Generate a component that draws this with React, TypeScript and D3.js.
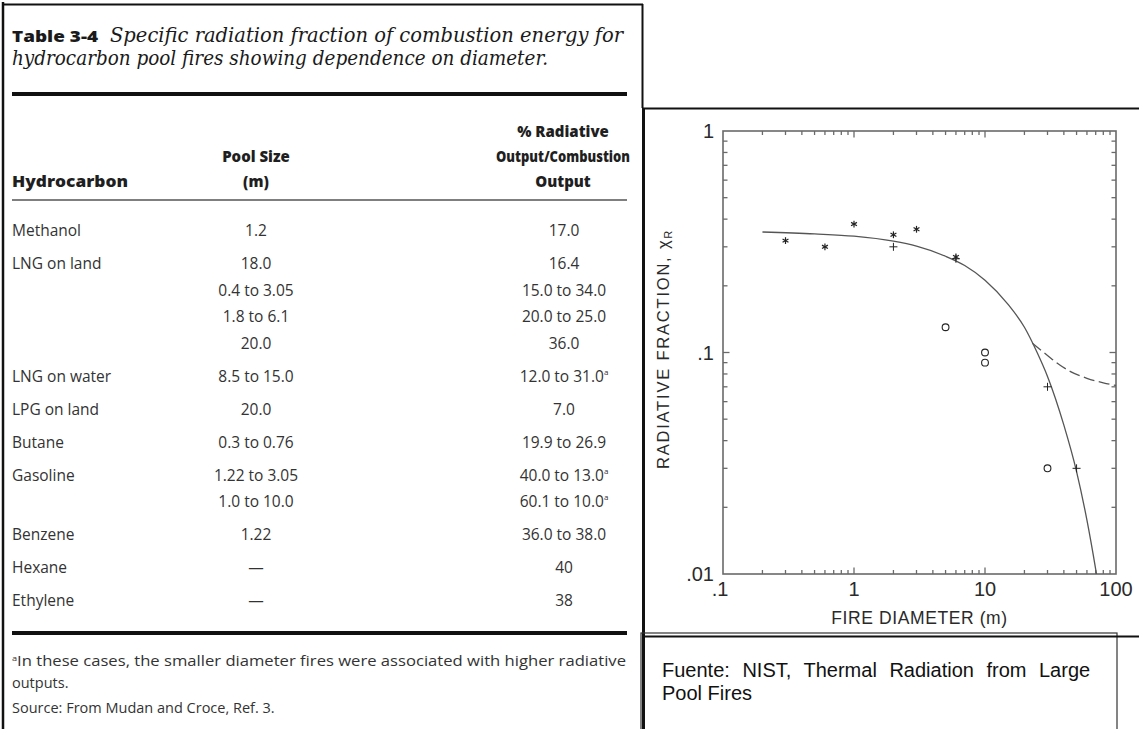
import * as d3 from 'd3';

// ---- table data ----
const hydrocarbons = ['Methanol', 'LNG on land', '', '', '', 'LNG on water', 'LPG on land', 'Butane', 'Gasoline', '', 'Benzene', 'Hexane', 'Ethylene'];
const poolSizes = ['1.2', '18.0', '0.4 to 3.05', '1.8 to 6.1', '20.0', '8.5 to 15.0', '20.0', '0.3 to 0.76', '1.22 to 3.05', '1.0 to 10.0', '1.22', '—', '—'];
const radiativeOutputs = ['17.0', '16.4', '15.0 to 34.0', '20.0 to 25.0', '36.0', '12.0 to 31.0', '7.0', '19.9 to 26.9', '40.0 to 13.0', '60.1 to 10.0', '36.0 to 38.0', '40', '38'];
const footnoted = [false, false, false, false, false, true, false, false, true, true, false, false, false];

// ---- chart data ----
const starD = [0.3, 0.6, 1, 2, 3, 6];
const starV = [0.32, 0.30, 0.38, 0.34, 0.36, 0.27];
const plusD = [2, 6, 30, 50];
const plusV = [0.30, 0.265, 0.07, 0.03];
const circleD = [5, 10, 10, 30];
const circleV = [0.13, 0.10, 0.09, 0.03];
const solidD = [0.2, 0.5, 1, 2, 3, 5, 7, 10, 15, 20, 25, 30, 40, 50, 60, 70, 75];
const solidV = [0.35, 0.343, 0.335, 0.318, 0.302, 0.272, 0.247, 0.212, 0.165, 0.13, 0.10, 0.078, 0.047, 0.029, 0.0175, 0.0105, 0.0082];
const dashD = [23, 30, 37, 45, 60, 80, 100];
const dashV = [0.11, 0.097, 0.088, 0.082, 0.0765, 0.073, 0.071];
const xTickLabels = ['.1', '1', '10', '100'];
const yTickLabels = ['.01', '.1', '1'];

const W = 1139;
const H = 729;
const tableFont = '"Open Sans", "Noto Sans", sans-serif';
const chartFont = '"Liberation Sans", Arial, sans-serif';

function Table() {
    const rowY: number[] = [];
    let y = 230;
    hydrocarbons.forEach((h, i) => {
        if (i > 0) y += h ? 33 : 26.5;
        rowY.push(y);
    });
    const bottomRule = rowY[rowY.length - 1] + 33;

    return (
        <g>
            <line x1={3} y1={2} x2={3} y2={H} stroke="#111" strokeWidth={2.5} />
            <line x1={2} y1={4.5} x2={643} y2={4.5} stroke="#111" strokeWidth={2} />
            <line x1={642.5} y1={4} x2={642.5} y2={108} stroke="#111" strokeWidth={2} />

            <text x={12} y={42} fontFamily={tableFont} fontWeight={800} fontSize={16.5} fill="#1a1a1a"
                textLength={86} lengthAdjust="spacingAndGlyphs">Table 3-4</text>
            <text x={110} y={42} fontFamily='"DejaVu Serif", serif' fontStyle="italic" fontSize={19.5} fill="#1a1a1a"
                textLength={513} lengthAdjust="spacingAndGlyphs">Specific radiation fraction of combustion energy for</text>
            <text x={12} y={65} fontFamily='"DejaVu Serif", serif' fontStyle="italic" fontSize={19.5} fill="#1a1a1a"
                textLength={536} lengthAdjust="spacingAndGlyphs">hydrocarbon pool fires showing dependence on diameter.</text>

            <line x1={12} y1={94} x2={627} y2={94} stroke="#111" strokeWidth={4} />

            <g fontFamily={tableFont} fontWeight={800} fontSize={15} fill="#1f1f1f">
                <text x={12} y={187} textLength={116} lengthAdjust="spacingAndGlyphs">Hydrocarbon</text>
                <text x={256} y={162} textAnchor="middle">Pool Size</text>
                <text x={256} y={187} textAnchor="middle">(m)</text>
                <text x={563} y={137} textAnchor="middle">% Radiative</text>
                <text x={563} y={162} textAnchor="middle" textLength={134} lengthAdjust="spacingAndGlyphs">Output/Combustion</text>
                <text x={563} y={187} textAnchor="middle">Output</text>
            </g>
            <line x1={12} y1={200} x2={627} y2={200} stroke="#555" strokeWidth={1.5} />

            <g fontFamily={tableFont} fontSize={15.5} fill="#333">
                {hydrocarbons.map((h, i) => (
                    <g key={i}>
                        {h && <text x={12} y={rowY[i]} dominantBaseline="central">{h}</text>}
                        <text x={256} y={rowY[i]} dominantBaseline="central" textAnchor="middle">{poolSizes[i]}</text>
                        <text x={564} y={rowY[i]} dominantBaseline="central" textAnchor="middle">
                            {radiativeOutputs[i]}
                            {footnoted[i] && <tspan fontSize={8} dy={-5}>a</tspan>}
                        </text>
                    </g>
                ))}
            </g>

            <line x1={12} y1={bottomRule} x2={627} y2={bottomRule} stroke="#111" strokeWidth={4} />

            <g fontFamily={tableFont} fontSize={14.5} fill="#333">
                <text x={12} y={bottomRule + 33} textLength={614} lengthAdjust="spacingAndGlyphs">
                    <tspan fontSize={8} dy={-5}>a</tspan>
                    <tspan dy={5}>In these cases, the smaller diameter fires were associated with higher radiative</tspan>
                </text>
                <text x={12} y={bottomRule + 55}>outputs.</text>
                <text x={12} y={bottomRule + 80}>Source: From Mudan and Croce, Ref. 3.</text>
            </g>
        </g>
    );
}

function Chart() {
    const x = d3.scaleLog().domain([0.1, 100]).range([723, 1116]);
    const y = d3.scaleLog().domain([0.01, 1]).range([574, 131]);
    const [x0, x1] = x.range();
    const [y0, y1] = y.range();

    const xMinor: number[] = [];
    [0.1, 1, 10].forEach(k => d3.range(2, 10).forEach(m => xMinor.push(k * m)));
    const yMinor: number[] = [];
    [0.01, 0.1].forEach(k => d3.range(2, 10).forEach(m => yMinor.push(k * m)));
    const xMajor = [1, 10];
    const yMajor = [0.1];

    const line = d3.line<[number, number]>()
        .x(d => x(d[0]))
        .y(d => y(d[1]))
        .curve(d3.curveMonotoneX);

    const solid = line(solidD.map((d, i) => [d, solidV[i]]));
    const dashed = line(dashD.map((d, i) => [d, dashV[i]]));

    const frame = '#6a6a6a';
    const ink = '#222';

    return (
        <g>
            <defs>
                <clipPath id="plot-clip">
                    <rect x={x0} y={y1} width={x1 - x0} height={y0 - y1} />
                </clipPath>
            </defs>

            {/* panel borders */}
            <line x1={642} y1={108.5} x2={W} y2={108.5} stroke="#111" strokeWidth={2} />
            <line x1={643.5} y1={108} x2={643.5} y2={H} stroke="#111" strokeWidth={3} />

            {/* ticks */}
            <g stroke={frame} strokeWidth={1.3}>
                {xMinor.map(t => (
                    <g key={'xm' + t}>
                        <line x1={x(t)} x2={x(t)} y1={y0} y2={y0 - 4} />
                        <line x1={x(t)} x2={x(t)} y1={y1} y2={y1 + 4} />
                    </g>
                ))}
                {xMajor.map(t => (
                    <g key={'xM' + t}>
                        <line x1={x(t)} x2={x(t)} y1={y0} y2={y0 - 6.5} />
                        <line x1={x(t)} x2={x(t)} y1={y1} y2={y1 + 6.5} />
                    </g>
                ))}
                {yMinor.map(t => (
                    <g key={'ym' + t}>
                        <line x1={x0} x2={x0 + 4.5} y1={y(t)} y2={y(t)} />
                        <line x1={x1} x2={x1 - 4.5} y1={y(t)} y2={y(t)} />
                    </g>
                ))}
                {yMajor.map(t => (
                    <g key={'yM' + t}>
                        <line x1={x0} x2={x0 + 6.5} y1={y(t)} y2={y(t)} />
                        <line x1={x1} x2={x1 - 6.5} y1={y(t)} y2={y(t)} />
                    </g>
                ))}
            </g>
            <rect x={x0} y={y1} width={x1 - x0} height={y0 - y1} fill="none" stroke={frame} strokeWidth={1.6} />

            {/* curves */}
            <g clipPath="url(#plot-clip)" fill="none" stroke="#555" strokeWidth={1.3}>
                <path d={solid ?? ''} />
                <path d={dashed ?? ''} strokeDasharray="11 4.5" />
            </g>

            {/* markers */}
            <g stroke={ink} strokeWidth={1.2} fill="none">
                {starD.map((d, i) => {
                    const cx = x(d), cy = y(starV[i]), r = 3.4;
                    return (
                        <g key={'s' + i} transform={`translate(${cx},${cy})`}>
                            {[90, 30, -30].map(a => {
                                const rad = a * Math.PI / 180;
                                return <line key={a} x1={-r * Math.cos(rad)} y1={-r * Math.sin(rad)} x2={r * Math.cos(rad)} y2={r * Math.sin(rad)} />;
                            })}
                        </g>
                    );
                })}
                {plusD.map((d, i) => {
                    const cx = x(d), cy = y(plusV[i]), r = 4;
                    return (
                        <g key={'p' + i} strokeWidth={1}>
                            <line x1={cx - r} x2={cx + r} y1={cy} y2={cy} />
                            <line x1={cx} x2={cx} y1={cy - r} y2={cy + r} />
                        </g>
                    );
                })}
                {circleD.map((d, i) => (
                    <circle key={'c' + i} cx={x(d)} cy={y(circleV[i])} r={3.4} strokeWidth={1.1} />
                ))}
            </g>

            {/* tick labels */}
            <g fontFamily={chartFont} fontSize={20} fill="#2a2a2a">
                {[0.01, 0.1, 1].map((t, i) => (
                    <text key={'yl' + t} x={x0 - 9} y={y(t)} textAnchor="end" dominantBaseline="central">{yTickLabels[i]}</text>
                ))}
                {[0.1, 1, 10, 100].map((t, i) => (
                    <text key={'xl' + t} x={x(t) + (i === 0 ? -3 : 0)} y={596} textAnchor="middle">{xTickLabels[i]}</text>
                ))}
            </g>

            {/* axis titles */}
            <text x={(x0 + x1) / 2} y={624} textAnchor="middle" fontFamily={chartFont} fontSize={17.5} fill="#2a2a2a" letterSpacing={0.6}>
                FIRE DIAMETER (m)
            </text>
            <text transform="translate(669,349) rotate(-90)" textAnchor="middle" fontFamily={chartFont} fontSize={16.5} fill="#2a2a2a" letterSpacing={1.8}>
                RADIATIVE FRACTION, χ<tspan fontSize={11} dy={3}>R</tspan>
            </text>

            {/* source box */}
            <rect x={641} y={633} width={476} height={H - 633 + 2} fill="none" stroke="#333" strokeWidth={1.2} />
            <line x1={643} y1={636.5} x2={W} y2={636.5} stroke="#111" strokeWidth={2} />
            <g fontFamily={chartFont} fontSize={20} fill="#111">
                <text x={662} y={677} wordSpacing={7}>Fuente: NIST, Thermal Radiation from Large</text>
                <text x={662} y={700}>Pool Fires</text>
            </g>
        </g>
    );
}

export default function App() {
    return (
        <svg width={W} height={H} viewBox={`0 0 ${W} ${H}`}
            style={{ position: 'absolute', left: 0, top: 0, background: '#fff' }}>
            <rect width={W} height={H} fill="#fff" />
            <Table />
            <Chart />
        </svg>
    );
}
